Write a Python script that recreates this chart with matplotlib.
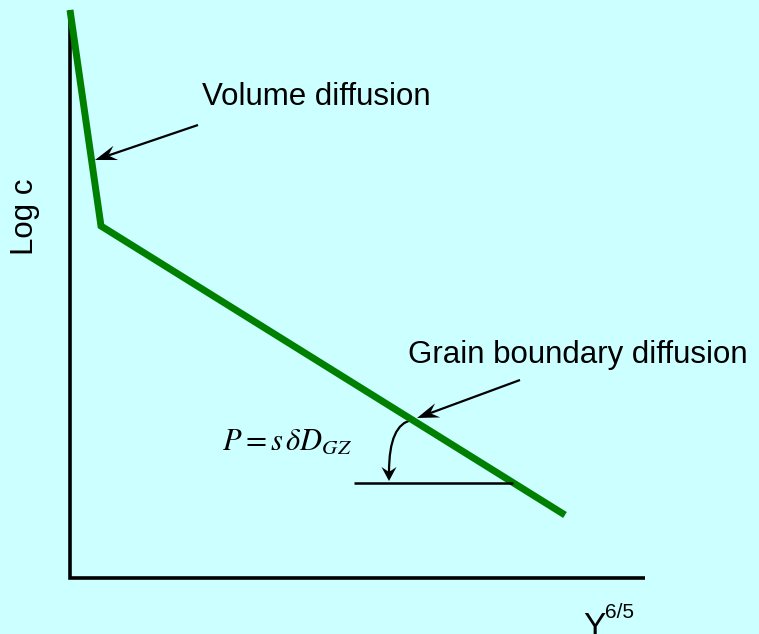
import matplotlib
matplotlib.use("Agg")
import matplotlib.pyplot as plt
import numpy as np
from matplotlib.path import Path
from matplotlib.patches import PathPatch, Polygon

# Data (chart units: pixel-like schematic coordinates)
curve_x = [70, 101, 565]
curve_y = [10, 226, 515]
axis_x = [70, 70, 645]
axis_y = [10, 578, 578]
ref_x = [354, 513]
ref_y = [483, 483]

labels = {
    "volume": "Volume diffusion",
    "grain": "Grain boundary diffusion",
    "ylabel": "Log c",
    "formula": r"$P = s\,\delta D_{GZ}$",
}

bg = "#CCFFFF"
plt.rcParams["mathtext.fontset"] = "stix"
fig = plt.figure(figsize=(7.59, 6.34), dpi=100, facecolor=bg)
ax = fig.add_axes([0, 0, 1, 1])
ax.set_facecolor(bg)
ax.set_xlim(0, 759)
ax.set_ylim(634, 0)
ax.axis("off")

ax.plot(axis_x, axis_y, color="black", lw=2.6, solid_joinstyle="miter", solid_capstyle="butt")
ax.plot(curve_x, curve_y, color="#008000", lw=5.0, solid_joinstyle="miter", solid_capstyle="butt")
ax.plot(ref_x, ref_y, color="black", lw=1.8, solid_capstyle="butt")

font = "Liberation Sans"
ax.text(202, 97, labels["volume"], fontsize=22.5, family=font, va="center", ha="left")
ax.text(408, 355, labels["grain"], fontsize=22.5, family=font, va="center", ha="left")
ax.text(25, 217, labels["ylabel"], fontsize=22.5, family=font, va="center", ha="center", rotation=90)
ax.text(222, 441, labels["formula"], fontsize=22, va="center", ha="left")
ax.text(583, 636, "Y", fontsize=24, family=font, va="baseline", ha="left")
ax.text(605, 618, "6/5", fontsize=15, family=font, va="baseline", ha="left")


def stealth_head(tip, direction, L, w, notch):
    d = np.asarray(direction, float)
    d = d / np.hypot(*d)
    n = np.array([-d[1], d[0]])
    tip = np.asarray(tip, float)
    pts = [tip, tip - L * d + w * n, tip - (L - notch) * d, tip - L * d - w * n]
    ax.add_patch(Polygon(pts, closed=True, color="black", lw=0))
    return tip - (L - notch) * d


def straight_arrow(start, tip):
    start = np.asarray(start, float)
    tip = np.asarray(tip, float)
    back = stealth_head(tip, tip - start, L=22, w=7.5, notch=8)
    ax.plot([start[0], back[0]], [start[1], back[1]], color="black", lw=1.6,
            solid_capstyle="butt")


straight_arrow((198, 125), (95, 160))
straight_arrow((520, 380), (417, 418))

# curved arrow to the reference line
S = np.array([412.0, 420.0])
C = np.array([389.0, 424.0])
E = np.array([389.0, 481.0])
back = stealth_head(E, E - C, L=14, w=7.5, notch=5)
path = Path([S, C, back], [Path.MOVETO, Path.CURVE3, Path.CURVE3])
ax.add_patch(PathPatch(path, facecolor="none", edgecolor="black", lw=1.6))

fig.savefig("out.png", dpi=100, facecolor=bg)
